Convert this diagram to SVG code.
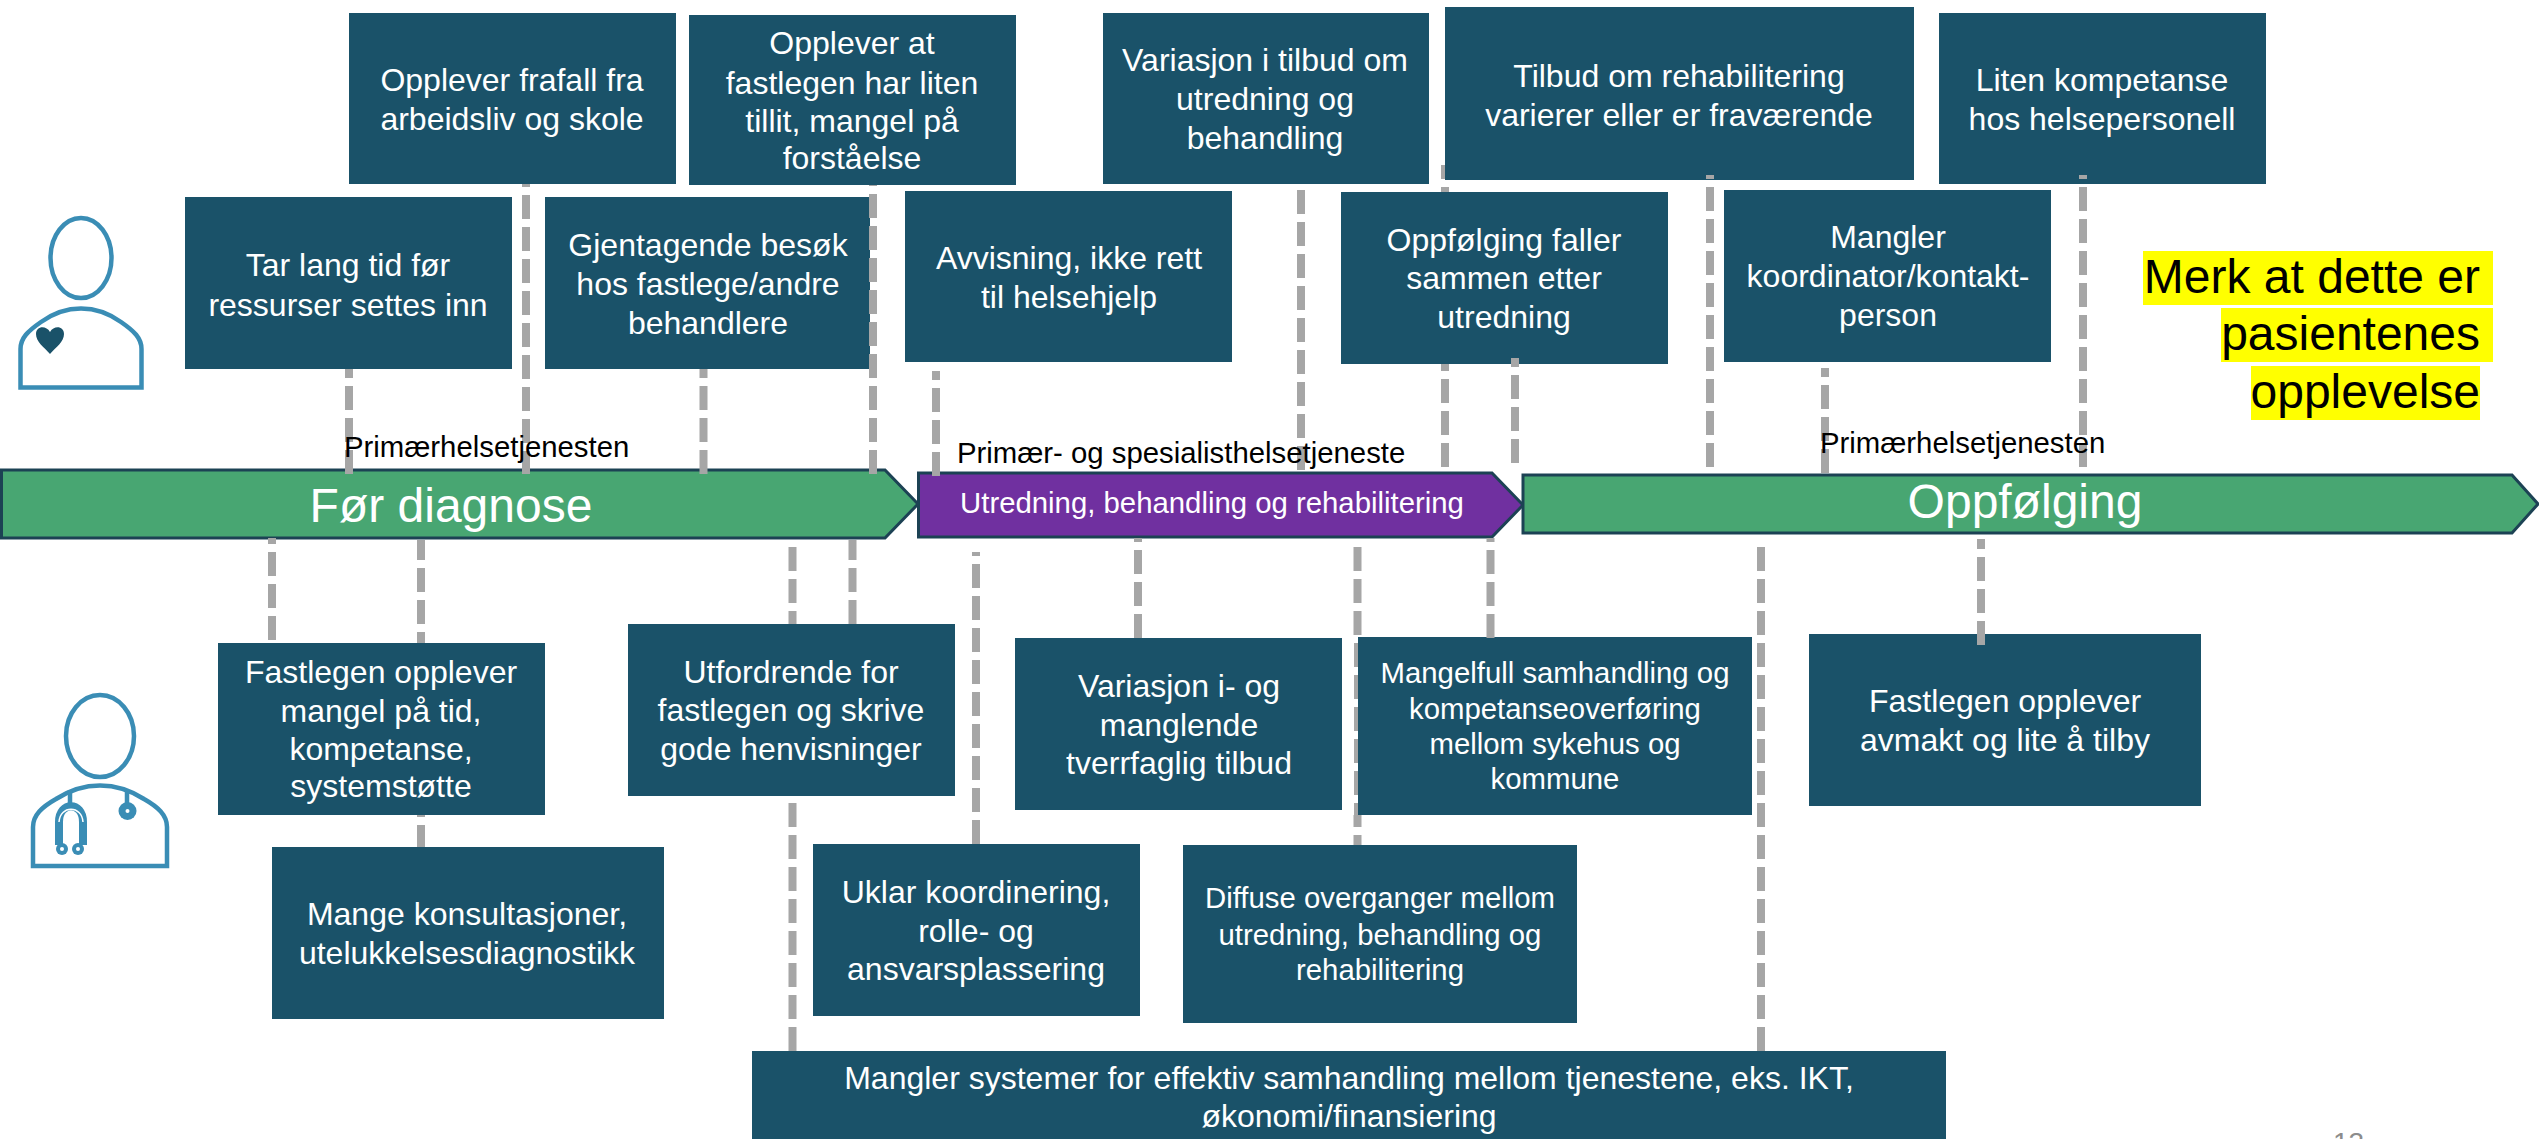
<svg xmlns="http://www.w3.org/2000/svg" width="2539" height="1139" viewBox="0 0 2539 1139">
<style>
text{font-family:"Liberation Sans",Arial,sans-serif}
.b{fill:#1A5269}
.t{fill:#fff;font-size:32px;text-anchor:middle}
.s{font-size:29.330px}
.d{stroke:#A6A6A6;stroke-width:8;stroke-dasharray:24 8;fill:none}
.h{stroke-width:4}
.a{stroke:#1C4254;stroke-width:3}
.l{fill:#000;font-size:29.330px}
.ic{fill:none;stroke:#3A8DB5;stroke-width:4.500}
.y{fill:#FFFF00}
.n{fill:#000;font-size:48px;text-anchor:end}
</style>
<rect width="2539" height="1139" fill="#fff"/>
<g id="phase-1"><path class="a" fill="#48A672" d="M1.500 470H885L918 504L885 538H1.500Z"/><text x="451" y="522" font-size="48" fill="#fff" text-anchor="middle">Før diagnose</text></g>
<g id="phase-2"><path class="a" fill="#7030A0" d="M918.500 473H1492L1523 505L1492 537H918.500Z"/><text x="1212" y="513" font-size="29.330" fill="#fff" text-anchor="middle">Utredning, behandling og rehabilitering</text></g>
<g id="phase-3"><path class="a" fill="#48A672" d="M1523 475H2512L2538 504L2512 533H1523Z"/><text x="2025" y="518" font-size="48" fill="#fff" text-anchor="middle">Oppfølging</text></g>
<g id="n1"><rect class="b" x="349" y="13" width="327" height="171"/><text class="t" x="512" y="91">Opplever frafall fra</text><text class="t" x="512" y="130">arbeidsliv og skole</text></g>
<g id="n2"><rect class="b" x="689" y="15" width="327" height="170"/><text class="t" x="852" y="54">Opplever at</text><text class="t" x="852" y="94">fastlegen har liten</text><text class="t" x="852" y="132">tillit, mangel på</text><text class="t" x="852" y="169">forståelse</text></g>
<g id="n3"><rect class="b" x="1103" y="13" width="326" height="171"/><text class="t" x="1265" y="71">Variasjon i tilbud om</text><text class="t" x="1265" y="110">utredning og</text><text class="t" x="1265" y="149">behandling</text></g>
<g id="n4"><rect class="b" x="1445" y="7" width="469" height="173"/><text class="t" x="1679" y="87">Tilbud om rehabilitering</text><text class="t" x="1679" y="126">varierer eller er fraværende</text></g>
<g id="n5"><rect class="b" x="1939" y="13" width="327" height="171"/><text class="t" x="2102" y="91">Liten kompetanse</text><text class="t" x="2102" y="130">hos helsepersonell</text></g>
<g id="n6"><rect class="b" x="185" y="197" width="327" height="172"/><text class="t" x="348" y="276">Tar lang tid før</text><text class="t" x="348" y="316">ressurser settes inn</text></g>
<g id="n7"><rect class="b" x="545" y="197" width="325" height="172"/><text class="t" x="708" y="256">Gjentagende besøk</text><text class="t" x="708" y="295">hos fastlege/andre</text><text class="t" x="708" y="334">behandlere</text></g>
<g id="n8"><rect class="b" x="905" y="191" width="327" height="171"/><text class="t" x="1069" y="269">Avvisning, ikke rett</text><text class="t" x="1069" y="308">til helsehjelp</text></g>
<g id="n9"><rect class="b" x="1341" y="192" width="327" height="172"/><text class="t" x="1504" y="251">Oppfølging faller</text><text class="t" x="1504" y="289">sammen etter</text><text class="t" x="1504" y="328">utredning</text></g>
<g id="n10"><rect class="b" x="1724" y="190" width="327" height="172"/><text class="t" x="1888" y="248">Mangler</text><text class="t" x="1888" y="287">koordinator/kontakt-</text><text class="t" x="1888" y="326">person</text></g>
<g id="n11"><rect class="b" x="218" y="643" width="327" height="172"/><text class="t" x="381" y="683">Fastlegen opplever</text><text class="t" x="381" y="722">mangel på tid,</text><text class="t" x="381" y="760">kompetanse,</text><text class="t" x="381" y="797">systemstøtte</text></g>
<g id="n12"><rect class="b" x="628" y="624" width="327" height="172"/><text class="t" x="791" y="683">Utfordrende for</text><text class="t" x="791" y="721">fastlegen og skrive</text><text class="t" x="791" y="760">gode henvisninger</text></g>
<g id="n13"><rect class="b" x="1015" y="638" width="327" height="172"/><text class="t" x="1179" y="697">Variasjon i- og</text><text class="t" x="1179" y="736">manglende</text><text class="t" x="1179" y="774">tverrfaglig tilbud</text></g>
<g id="n14"><rect class="b" x="1358" y="637" width="394" height="178"/><text class="t s" x="1555" y="683">Mangelfull samhandling og</text><text class="t s" x="1555" y="719">kompetanseoverføring</text><text class="t s" x="1555" y="754">mellom sykehus og</text><text class="t s" x="1555" y="789">kommune</text></g>
<g id="n15"><rect class="b" x="1809" y="634" width="392" height="172"/><text class="t" x="2005" y="712">Fastlegen opplever</text><text class="t" x="2005" y="751">avmakt og lite å tilby</text></g>
<g id="n16"><rect class="b" x="272" y="847" width="392" height="172"/><text class="t" x="467" y="925">Mange konsultasjoner,</text><text class="t" x="467" y="964">utelukkelsesdiagnostikk</text></g>
<g id="n17"><rect class="b" x="813" y="844" width="327" height="172"/><text class="t" x="976" y="903">Uklar koordinering,</text><text class="t" x="976" y="942">rolle- og</text><text class="t" x="976" y="980">ansvarsplassering</text></g>
<g id="n18"><rect class="b" x="1183" y="845" width="394" height="178"/><text class="t s" x="1380" y="908">Diffuse overganger mellom</text><text class="t s" x="1380" y="945">utredning, behandling og</text><text class="t s" x="1380" y="980">rehabilitering</text></g>
<g id="n19"><rect class="b" x="752" y="1051" width="1194" height="88"/><text class="t" x="1349" y="1089">Mangler systemer for effektiv samhandling mellom tjenestene, eks. IKT,</text><text class="t" x="1349" y="1127">økonomi/finansiering</text></g>
<g id="connectors">
<path class="d" stroke-dashoffset="15" d="M349 369V474"/>
<path class="d" stroke-dashoffset="21" d="M526 184V474"/>
<path class="d" stroke-dashoffset="15" d="M703.500 369V474"/>
<path class="d" stroke-dashoffset="23" d="M873 185V474"/>
<path class="d" stroke-dashoffset="15" d="M936 371V476"/>
<path class="d" d="M1301 190V470"/>
<path class="d h" stroke-dashoffset="10" d="M1443 165V179"/>
<path class="d" d="M1445 187V192"/>
<path class="d" stroke-dashoffset="17" d="M1445 364V467"/>
<path class="d" stroke-dashoffset="15" d="M1515 358V463"/>
<path class="d" stroke-dashoffset="20" d="M1710 175V467"/>
<path class="d" stroke-dashoffset="15" d="M1825 368V473"/>
<path class="d" stroke-dashoffset="20" d="M2083 175V467"/>
<path class="d" stroke-dashoffset="18" d="M272 538V640"/>
<path class="d" stroke-dashoffset="4" d="M421 540V643"/>
<path class="d" stroke-dashoffset="22" d="M421 815V847"/>
<path class="d" d="M792.500 547V624"/>
<path class="d" d="M792.500 803V1051"/>
<path class="d" stroke-dashoffset="4" d="M852.500 540V624"/>
<path class="d" stroke-dashoffset="20" d="M976 552V844"/>
<path class="d" stroke-dashoffset="20" d="M1138 538V638"/>
<path class="d" d="M1357.500 547V637"/>
<path class="d h" stroke-dashoffset="26" d="M1356 637V815"/>
<path class="d" stroke-dashoffset="12" d="M1357.500 815V845"/>
<path class="d" stroke-dashoffset="20" d="M1490.500 538V638"/>
<path class="d" d="M1761 547V1051"/>
<path class="d" stroke-dashoffset="14" d="M1981 539V645"/>
</g>
<g id="labels">
<text class="l" x="344" y="457">Primærhelsetjenesten</text>
<text class="l" x="957" y="463">Primær- og spesialisthelsetjeneste</text>
<text class="l" x="1820" y="453">Primærhelsetjenesten</text>
</g>
<g id="note">
<rect class="y" x="2143" y="251" width="350" height="54"/><rect class="y" x="2221" y="308" width="272" height="54"/><rect class="y" x="2251" y="366" width="229" height="54"/>
<text class="n" x="2480" y="293">Merk at dette er</text><text class="n" x="2480" y="350">pasientenes</text><text class="n" x="2480" y="408">opplevelse</text>
</g>
<g id="patient-icon">
<ellipse class="ic" cx="81" cy="258" rx="30.500" ry="40"/>
<path class="ic" d="M20.500 387.500V349C20.500 338 28 331 41 322C66 304 96 304 121 322C134 331 141.500 338 141.500 349V387.500Z"/>
<path fill="#1A5269" d="M50 354C44 347 36 342 36 334C36 326 46 325 50 332C54 325 64 326 64 334C64 342 56 347 50 354Z"/>
</g>
<g id="doctor-icon">
<ellipse class="ic" cx="100" cy="736" rx="34" ry="41"/>
<path class="ic" d="M33 866V827C33 815 42 807 56 799C84 781 116 781 144 799C158 807 167 815 167 827V866Z"/>
<path class="ic" d="M70 790V806M127 790V806"/>
<path fill="none" stroke="#3A8DB5" stroke-width="8" d="M59 845V822C59 801 83 801 83 822V845"/>
<path fill="none" stroke="#fff" stroke-width="1.500" d="M59 822C60 805 82 805 83 822"/>
<circle cx="62" cy="849" r="6" fill="#3A8DB5"/><circle cx="78" cy="849" r="6" fill="#3A8DB5"/>
<circle cx="62" cy="849" r="2" fill="#fff"/><circle cx="78" cy="849" r="2" fill="#fff"/>
<circle cx="127.500" cy="811" r="9" fill="#3A8DB5"/><circle cx="127.500" cy="811" r="2" fill="#fff"/>
</g>
<text id="page-number" x="2333" y="1152" font-size="28" fill="#8C8C8C">13</text>
</svg>
